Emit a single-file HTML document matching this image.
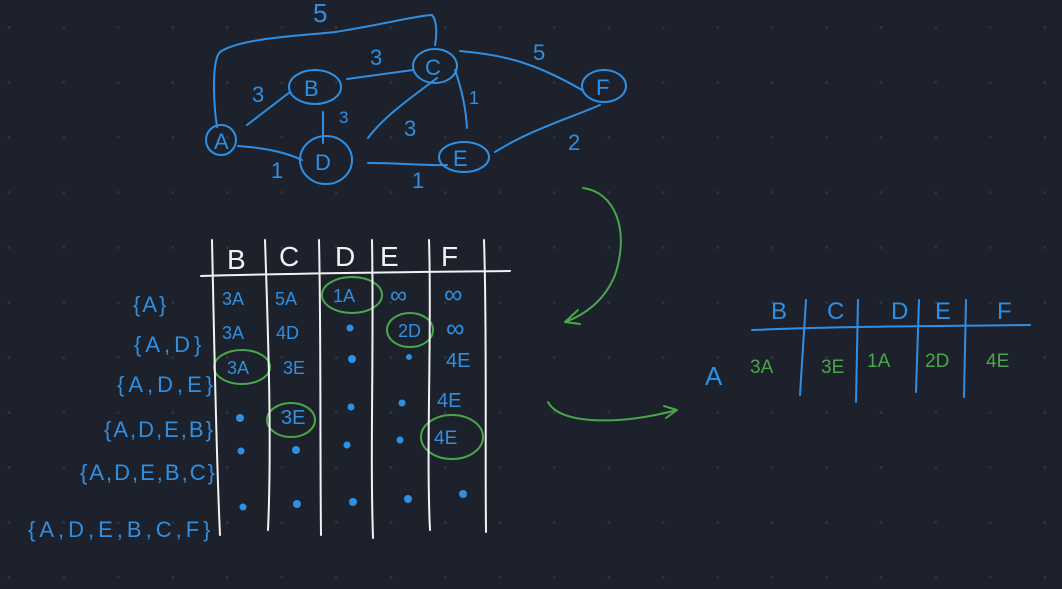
<!DOCTYPE html>
<html><head><meta charset="utf-8"><style>
html,body{margin:0;padding:0}
body{width:1062px;height:589px;overflow:hidden;background-color:#1d212b;
background-image:radial-gradient(circle,#30343e 1.3px,transparent 1.6px);background-size:54.5px 55px;background-position:-18px 0px}
svg{position:absolute;left:0;top:0}
text{font-family:"Liberation Sans",sans-serif}
.b{fill:#2f8fe3}.g{fill:#4aa64a}.w{fill:#f2f2f2}
</style></head><body>
<svg width="1062" height="589" viewBox="0 0 1062 589">
<g fill="none" stroke="#2f8fe3" stroke-width="2" stroke-linecap="round">
<ellipse cx="221" cy="140" rx="15" ry="15"/>
<ellipse cx="315" cy="87" rx="26" ry="17"/>
<ellipse cx="435" cy="66" rx="22" ry="17"/>
<ellipse cx="326" cy="160" rx="26" ry="24"/>
<ellipse cx="464" cy="157" rx="25" ry="15"/>
<ellipse cx="604" cy="86" rx="22" ry="16"/>
<path d="M217 127 C213 100 212 60 220 52 C240 38 300 36 335 32 C380 25 420 15 432 15 C437 20 437 35 435 45"/>
<path d="M247 125 L290 92"/><path d="M347 79 L413 70"/><path d="M323 112 L323 143"/>
<path d="M238 146 C265 148 285 152 302 160"/><path d="M368 138 C385 115 415 95 437 78"/>
<path d="M455 70 C462 90 466 110 467 128"/><path d="M460 51 C500 55 530 60 582 90"/>
<path d="M368 163 C400 163 430 166 447 165"/><path d="M495 152 C530 130 570 118 600 105"/>
</g>
<g class="b" font-size="22">
<text x="214" y="149">A</text><text x="304" y="96">B</text><text x="425" y="75">C</text>
<text x="315" y="170">D</text><text x="453" y="166">E</text><text x="596" y="95">F</text>
<text x="313" y="22" font-size="26">5</text><text x="252" y="102">3</text><text x="370" y="65">3</text>
<text x="339" y="123" font-size="17">3</text><text x="271" y="178">1</text><text x="404" y="136">3</text>
<text x="469" y="104" font-size="18">1</text><text x="533" y="60">5</text><text x="412" y="188">1</text><text x="568" y="150">2</text>
</g>
<g fill="none" stroke="#4aa64a" stroke-width="2" stroke-linecap="round">
<path d="M583 188 C615 192 630 230 615 275 C605 300 585 315 565 322"/><path d="M565 322 L578 310 M565 322 L580 324"/>
<path d="M548 402 C560 425 620 425 677 410"/><path d="M677 410 L664 406 M677 410 L666 418"/>
<ellipse cx="352" cy="295" rx="30" ry="18"/><ellipse cx="410" cy="330" rx="23" ry="17"/>
<ellipse cx="242" cy="367" rx="28" ry="17"/><ellipse cx="291" cy="420" rx="24" ry="17"/>
<ellipse cx="452" cy="437" rx="31" ry="22"/>
</g>
<g fill="none" stroke="#f2f2f2" stroke-width="2" stroke-linecap="round">
<path d="M212 240 C214 330 216 450 220 535"/><path d="M265 240 C268 330 272 440 268 530"/>
<path d="M319 240 C321 330 320 450 321 535"/><path d="M372 240 C374 350 370 450 373 538"/>
<path d="M429 240 C432 330 426 450 430 530"/><path d="M484 240 C487 330 485 450 486 532"/>
<path d="M201 276 C300 273 420 272 510 271"/>
</g>
<g class="w" font-size="28"><text x="227" y="269">B</text><text x="279" y="266">C</text><text x="335" y="266">D</text><text x="380" y="266">E</text><text x="441" y="266">F</text></g>
<g class="b" font-size="18">
<text x="222" y="305">3A</text><text x="275" y="305">5A</text><text x="333" y="302">1A</text><text x="390" y="303" font-size="24">∞</text><text x="444" y="303" font-size="26">∞</text>
<text x="222" y="339">3A</text><text x="276" y="339">4D</text><text x="398" y="337">2D</text><text x="446" y="337" font-size="26">∞</text>
<text x="227" y="374">3A</text><text x="283" y="374">3E</text><text x="446" y="367" font-size="20">4E</text>
<text x="281" y="424" font-size="20">3E</text><text x="437" y="407" font-size="20">4E</text>
<text x="434" y="444" font-size="19">4E</text>
</g>
<g class="b">
<circle cx="350" cy="328" r="3.5"/><circle cx="352" cy="359" r="4"/><circle cx="409" cy="357" r="3"/>
<circle cx="240" cy="418" r="4"/><circle cx="351" cy="407" r="3.5"/><circle cx="402" cy="403" r="3.5"/>
<circle cx="241" cy="451" r="3.5"/><circle cx="296" cy="450" r="4"/><circle cx="347" cy="445" r="3.5"/><circle cx="400" cy="440" r="3.5"/>
<circle cx="243" cy="507" r="3.5"/><circle cx="297" cy="504" r="4"/><circle cx="353" cy="502" r="4"/><circle cx="408" cy="499" r="4"/><circle cx="463" cy="494" r="4"/>
</g>
<g class="b" font-size="22">
<text x="133" y="312" letter-spacing="2">{A}</text><text x="134" y="352" letter-spacing="4">{A,D}</text><text x="117" y="392" letter-spacing="4">{A,D,E}</text>
<text x="104" y="437" letter-spacing="2">{A,D,E,B}</text><text x="80" y="480" letter-spacing="2">{A,D,E,B,C}</text><text x="28" y="537" letter-spacing="4">{A,D,E,B,C,F}</text>
</g>
<g fill="none" stroke="#2f8fe3" stroke-width="2" stroke-linecap="round">
<path d="M752 330 C850 326 950 326 1030 325"/><path d="M806 300 L800 395"/><path d="M858 300 L856 402"/>
<path d="M919 300 L916 392"/><path d="M966 300 L964 397"/>
</g>
<g class="b" font-size="24"><text x="771" y="319">B</text><text x="827" y="319">C</text><text x="891" y="319">D</text><text x="935" y="319">E</text><text x="997" y="319">F</text>
<text x="705" y="385" font-size="26">A</text></g>
<g class="g" font-size="19"><text x="750" y="373">3A</text><text x="821" y="373">3E</text><text x="867" y="367">1A</text><text x="925" y="367">2D</text><text x="986" y="367">4E</text></g>
</svg>
</body></html>
